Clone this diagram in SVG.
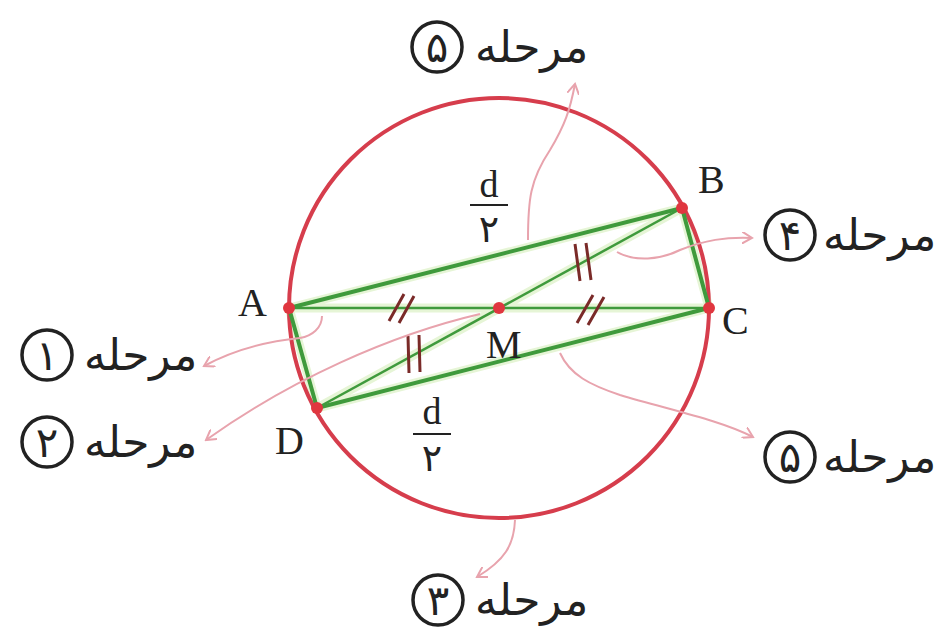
<svg xmlns="http://www.w3.org/2000/svg" width="943" height="639" viewBox="0 0 943 639">
<defs>
<marker id="arr" viewBox="0 0 12 12" refX="10" refY="6" markerWidth="12" markerHeight="12" markerUnits="userSpaceOnUse" orient="auto">
<path d="M0,0 L10,6 L0,12" fill="none" stroke="#e8a3ad" stroke-width="2"/>
</marker>
<style>
.halo{stroke:#e6f5d6;stroke-width:9;fill:none;stroke-linecap:round}
.gT{stroke:#3f9a3c;stroke-width:4;fill:none;stroke-linecap:round}
.gt{stroke:#3f9a3c;stroke-width:2.5;fill:none}
.circ{stroke:#d63d4c;stroke-width:4;fill:none}
.dot{fill:#e0363f}
.tick{stroke:#7a2a28;stroke-width:3;fill:none}
.pk{stroke:#e8a3ad;stroke-width:2;fill:none}
.lbl{font-family:"Liberation Serif","DejaVu Serif",serif;font-size:40px;fill:#222}
.frac{font-family:"Liberation Serif","DejaVu Sans",serif;font-size:38px;fill:#222;text-anchor:middle}
.fa{font-family:"DejaVu Sans","Noto Sans",sans-serif;font-size:44px;fill:#222}
.num{font-family:"DejaVu Sans","Noto Sans",sans-serif;font-size:42px;fill:#222;text-anchor:middle}
.nc{stroke:#222;stroke-width:3.5;fill:#fff}
</style>
</defs>
<rect width="943" height="639" fill="#fff"/>
<g id="halo">
<path class="halo" d="M289,308 L682,208 L709,308 L317,408 Z M289,308 L709,308 M682,208 L317,408"/>
</g>
<g id="circle"><circle class="circ" cx="499" cy="308" r="210"/></g>
<g id="connectors">
<path class="gT" d="M289,308 L682,208"/>
<path class="gT" d="M709,308 L317,408"/>
<path class="gT" d="M682,208 L709,308"/>
<path class="gT" d="M289,308 L317,408"/>
<path class="gt" d="M289,308 L709,308"/>
<path class="gt" d="M682,208 L317,408"/>
<path class="tick" d="M389,321 L404,294 M399,323 L414,296"/>
<path class="tick" d="M577,323 L593,295 M588,325 L604,297"/>
<path class="tick" d="M575,244 L580,281 M586,243 L591,280"/>
<path class="tick" d="M408,336 L409,373 M419,335 L420,372"/>
<path class="pk" marker-end="url(#arr)" d="M528,240 C528,200 530,180 550,150 C565,125 570,110 575,84"/>
<path class="pk" marker-end="url(#arr)" d="M617,252 C635,262 660,260 680,250 C705,240 725,237 752,238"/>
<path class="pk" d="M322,316 C322,328 312,336 300,338"/>
<path class="pk" marker-end="url(#arr)" d="M300,338 C260,342 230,352 204,366"/>
<path class="pk" marker-end="url(#arr)" d="M480,314 C390,335 290,380 206,440"/>
<path class="pk" marker-end="url(#arr)" d="M560,353 C570,375 590,385 620,395 C670,410 720,420 753,437"/>
<path class="pk" marker-end="url(#arr)" d="M515,520 C514,545 505,560 477,577"/>
</g>
<g id="points">
<circle class="dot" cx="289" cy="308" r="6"/>
<circle class="dot" cx="682" cy="208" r="6"/>
<circle class="dot" cx="709" cy="308" r="6"/>
<circle class="dot" cx="317" cy="408" r="6"/>
<circle class="dot" cx="499" cy="308" r="6"/>
</g>
<g id="labels">
<text class="lbl" x="238" y="316">A</text>
<text class="lbl" x="698" y="193">B</text>
<text class="lbl" x="722" y="334">C</text>
<text class="lbl" x="275" y="454">D</text>
<text class="lbl" x="486" y="358">M</text>
<g id="frac-top"><text class="frac" x="489" y="197">d</text><line x1="470" y1="205" x2="508" y2="205" stroke="#222" stroke-width="2"/><text class="frac" x="489" y="242">۲</text></g>
<g id="frac-bot"><text class="frac" x="432" y="424">d</text><line x1="413" y1="434" x2="451" y2="434" stroke="#222" stroke-width="2"/><text class="frac" x="432" y="471">۲</text></g>
</g>
<g id="step5-top"><circle class="nc" cx="437" cy="47" r="25"/><text class="num" x="437" y="62">۵</text><text class="fa" x="475" y="62">مرحله</text></g>
<g id="step4"><circle class="nc" cx="790" cy="235" r="25"/><text class="num" x="790" y="250">۴</text><text class="fa" x="823" y="250">مرحله</text></g>
<g id="step1"><circle class="nc" cx="47" cy="355" r="25"/><text class="num" x="47" y="370">۱</text><text class="fa" x="84" y="370">مرحله</text></g>
<g id="step2"><circle class="nc" cx="47" cy="442" r="25"/><text class="num" x="47" y="457">۲</text><text class="fa" x="84" y="457">مرحله</text></g>
<g id="step5-bot"><circle class="nc" cx="790" cy="457" r="25"/><text class="num" x="790" y="472">۵</text><text class="fa" x="823" y="472">مرحله</text></g>
<g id="step3"><circle class="nc" cx="438" cy="600" r="25"/><text class="num" x="438" y="615">۳</text><text class="fa" x="475" y="615">مرحله</text></g>
</svg>
